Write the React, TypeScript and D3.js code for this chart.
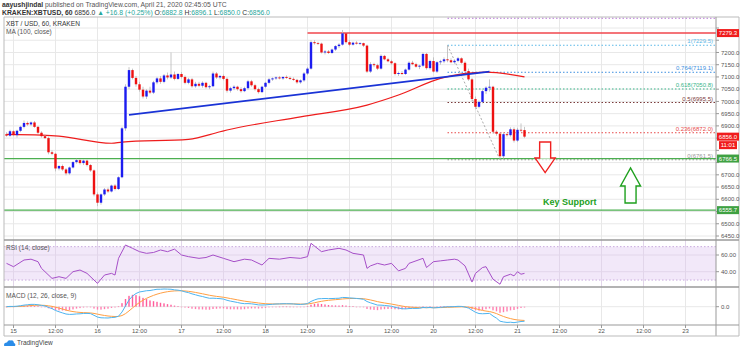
import React from 'react';
import * as d3 from 'd3';

const W = 741;
const H = 351;

// hourly candles, first one is 14 April 22:00 (hour -2 relative to 15 April 00:00)
const FIRST_HOUR = -2;
const ohlc: [number, number, number, number][] = [
  [6866, 6874, 6856, 6860], [6860, 6884, 6856, 6878], [6878, 6882, 6858, 6862], [6862, 6884, 6852, 6880],
  [6880, 6900, 6874, 6896], [6896, 6922, 6890, 6912], [6912, 6918, 6900, 6906], [6906, 6918, 6900, 6914],
  [6914, 6920, 6892, 6896], [6896, 6900, 6866, 6872], [6872, 6878, 6852, 6858], [6858, 6864, 6846, 6850],
  [6850, 6856, 6784, 6792], [6792, 6800, 6780, 6786], [6786, 6790, 6714, 6726], [6726, 6740, 6718, 6736],
  [6736, 6742, 6716, 6722], [6722, 6728, 6698, 6706], [6706, 6734, 6700, 6730], [6730, 6756, 6726, 6752],
  [6752, 6766, 6746, 6760], [6760, 6764, 6742, 6748], [6748, 6762, 6740, 6758], [6758, 6762, 6734, 6740],
  [6740, 6744, 6712, 6718], [6718, 6722, 6612, 6620], [6620, 6628, 6572, 6586], [6586, 6624, 6578, 6620],
  [6620, 6646, 6614, 6640], [6640, 6648, 6626, 6632], [6632, 6660, 6628, 6656], [6656, 6662, 6636, 6642],
  [6642, 6694, 6638, 6690], [6690, 6896, 6686, 6890], [6890, 7070, 6880, 7060], [7060, 7140, 7050, 7128],
  [7128, 7134, 7090, 7096], [7096, 7104, 7060, 7070], [7070, 7080, 7040, 7048], [7048, 7060, 7012, 7020],
  [7020, 7050, 7010, 7044], [7044, 7060, 7030, 7036], [7036, 7084, 7030, 7078], [7078, 7100, 7070, 7094],
  [7094, 7104, 7072, 7080], [7080, 7112, 7074, 7106], [7106, 7118, 7090, 7098], [7098, 7200, 7092, 7110],
  [7110, 7122, 7086, 7092], [7092, 7116, 7088, 7112], [7112, 7120, 7094, 7100], [7100, 7106, 7070, 7076],
  [7076, 7096, 7070, 7090], [7090, 7096, 7056, 7062], [7062, 7080, 7056, 7072], [7072, 7080, 7058, 7064],
  [7064, 7082, 7056, 7076], [7076, 7080, 7052, 7058], [7058, 7068, 7050, 7062], [7062, 7122, 7058, 7114],
  [7114, 7120, 7092, 7098], [7098, 7108, 7090, 7104], [7104, 7110, 7086, 7092], [7092, 7098, 7036, 7044],
  [7044, 7060, 7036, 7054], [7054, 7066, 7046, 7060], [7060, 7064, 7044, 7050], [7050, 7058, 7036, 7042],
  [7042, 7060, 7038, 7054], [7054, 7088, 7048, 7082], [7082, 7088, 7060, 7066], [7066, 7072, 7044, 7050],
  [7050, 7056, 7032, 7038], [7038, 7064, 7034, 7060], [7060, 7080, 7054, 7076], [7076, 7096, 7070, 7090],
  [7090, 7098, 7084, 7094], [7094, 7102, 7088, 7098], [7098, 7104, 7090, 7094], [7094, 7102, 7088, 7100],
  [7100, 7106, 7092, 7096], [7096, 7102, 7088, 7092], [7092, 7098, 7084, 7088], [7088, 7092, 7072, 7078],
  [7078, 7090, 7072, 7086], [7086, 7120, 7080, 7114], [7114, 7140, 7108, 7134], [7134, 7250, 7130, 7242],
  [7242, 7250, 7232, 7238], [7238, 7244, 7230, 7236], [7236, 7240, 7196, 7200], [7200, 7210, 7192, 7204],
  [7204, 7210, 7194, 7198], [7198, 7216, 7194, 7212], [7212, 7230, 7206, 7226], [7226, 7238, 7218, 7232],
  [7232, 7292, 7228, 7278], [7278, 7282, 7236, 7242], [7242, 7250, 7226, 7232], [7232, 7244, 7228, 7240],
  [7240, 7246, 7232, 7236], [7236, 7242, 7230, 7238], [7238, 7240, 7222, 7228], [7228, 7232, 7116, 7122],
  [7122, 7160, 7116, 7152], [7152, 7158, 7140, 7148], [7148, 7154, 7128, 7134], [7134, 7192, 7130, 7186],
  [7186, 7190, 7168, 7172], [7172, 7178, 7160, 7164], [7164, 7170, 7150, 7156], [7156, 7160, 7106, 7112],
  [7112, 7122, 7104, 7116], [7116, 7124, 7108, 7112], [7112, 7134, 7108, 7130], [7130, 7164, 7126, 7158],
  [7158, 7166, 7148, 7152], [7152, 7158, 7138, 7142], [7142, 7150, 7132, 7146], [7146, 7200, 7140, 7194],
  [7194, 7198, 7130, 7136], [7136, 7170, 7130, 7165], [7165, 7180, 7118, 7122], [7122, 7164, 7116, 7160],
  [7160, 7170, 7150, 7164], [7164, 7180, 7156, 7172], [7172, 7229.5, 7160, 7168], [7168, 7176, 7156, 7160],
  [7160, 7172, 7154, 7166], [7166, 7182, 7160, 7176], [7176, 7180, 7154, 7158], [7158, 7164, 7118, 7124],
  [7124, 7134, 7084, 7090], [7090, 7096, 7000, 7010], [7010, 7020, 6968, 6978], [6978, 7004, 6972, 6998],
  [6998, 7048, 6992, 7042], [7042, 7062, 7030, 7056], [7056, 7090, 7040, 7060], [7060, 7064, 6868, 6876],
  [6876, 6882, 6860, 6868], [6868, 6874, 6761.5, 6776], [6776, 6872, 6766, 6866], [6866, 6872, 6856, 6862],
  [6862, 6894, 6856, 6886], [6886, 6894, 6832, 6840], [6840, 6892, 6834, 6884], [6884, 6910, 6876, 6882],
  [6882.8, 6896.1, 6850, 6856],
];

const priceTicks = d3.range(6450, 7301, 50);
const timeLabels = ['15', '12:00', '16', '12:00', '17', '12:00', '18', '12:00', '19', '12:00', '20', '12:00', '21', '12:00', '22', '12:00', '23'];
const timeLabelHours = timeLabels.map((_, i) => i * 12);

// MA(100) read at a few hours
const maHours = [-2, 8, 13, 28, 31, 50, 59, 61, 82, 101, 110, 122, 135, 146];
const maValues = [6865, 6862, 6858, 6829, 6834, 6845, 6876, 6883, 6937, 6985, 7026, 7094, 7120, 7100];

// RSI(14)
const rsiHours = [-2, 0, 3, 5, 7, 8, 11, 13, 15, 17, 19, 21, 24, 26, 28, 29, 30, 32, 34, 36, 38, 40, 42, 44, 46, 48, 50, 53, 55, 57, 60, 63, 66, 68, 71, 73, 76, 79, 82, 84, 85, 88, 90, 93, 95, 97, 100, 101, 102, 104, 106, 108, 110, 112, 113, 115, 117, 118, 120, 122, 124, 126, 127, 129, 131, 132, 134, 135, 137, 139, 140, 142, 143, 144, 145, 146];
const rsiValues = [50, 46, 54, 55, 52, 44, 32, 34, 32, 40, 42, 38, 26, 36, 38, 36, 56, 72, 68, 64, 62, 63, 66, 64, 67, 60, 58, 56, 57, 60, 56, 52, 55, 54, 48, 56, 55, 57, 56, 58, 74, 64, 66, 68, 66, 62, 60, 44, 47, 50, 48, 50, 41, 44, 50, 53, 56, 45, 52, 53, 54, 55, 54, 47, 27.6, 38, 45, 46, 31, 25, 34, 37, 35, 40, 37, 38];

// rising trend line (hour, price)
const trendHours = [33, 136];
const trendPrices = [6945, 7122];

const resistancePrice = 7279.3;
const resistanceStartHour = 84;
const supportPrices = [6766.5, 6555.7];

const fibHigh = 7229.5;
const fibLow = 6761.5;
const fibStartHour = 124;
const fibLowHour = 139;
const fibRatios = [1.236, 1, 0.764, 0.618, 0.5, 0.236, 0];
const fibLabelPrices = [7339.9, 7229.5, 7119.1, 7050.8, 6995.5, 6872.0, 6761.5];
const fibColors = ['#b56fd6', '#5bb8e8', '#3d8fe0', '#38b58a', '#7a3b3b', '#e84a4a', '#999999'];
const fibShowLabel = [false, true, true, true, true, true, true];

const lastPrice = 6856.0;
const countdown = '11:01';

const rsiTicks = [60, 40];

const FONT = '"Liberation Sans", Arial, sans-serif';

function ema(vals: number[], n: number) {
  const a = 2 / (n + 1);
  const out: number[] = [];
  vals.forEach((v, i) => out.push(i === 0 ? v : a * v + (1 - a) * out[i - 1]));
  return out;
}

export default function App() {
  const L = 4, R = 716, AX = 739;
  const mainTop = 17, mainBot = 240, rsiBot = 287, macdBot = 325, axBot = 336;

  const x = d3.scaleLinear().domain([0, 12]).range([13.5, 55.5]);
  const y = d3.scaleLinear().domain([6450, 7300]).range([236, 28]);
  const yR = d3.scaleLinear().domain([40, 60]).range([271.7, 255]);

  const closes = ohlc.map(d => d[3]);
  const hours = ohlc.map((_, i) => FIRST_HOUR + i);
  const e12 = ema(closes, 12), e26 = ema(closes, 26);
  const macd = e12.map((v, i) => v - e26[i]);
  const signal = ema(macd, 9);
  const hist = macd.map((v, i) => v - signal[i]);
  const macdMax = d3.max(macd) as number;
  const yM = d3.scaleLinear().domain([0, macdMax]).range([306.7, 289]);

  const bw = 2.4;
  const maLine = d3.line<number>().x((_, i) => x(maHours[i])).y(v => y(v)).curve(d3.curveMonotoneX);
  const rsiLine = d3.line<number>().x((_, i) => x(rsiHours[i])).y(v => yR(v));
  const macdLine = d3.line<number>().x((_, i) => x(hours[i])).y(v => yM(v));

  const grid = '#e8e8e8';
  const axisText = '#555';

  const fibPrice = (r: number) => fibLow + r * (fibHigh - fibLow);

  const tags = [
    { p: resistancePrice, c: '#f01c1c' },
    { p: lastPrice, c: '#f01c1c' },
    { p: supportPrices[0], c: '#3fa142' },
    { p: supportPrices[1], c: '#3fa142' },
  ];
  const visibleTicks = priceTicks.filter(p => tags.every(t => Math.abs(y(t.p) - y(p)) > 8) && Math.abs(y(lastPrice) + 8.5 - y(p)) > 7);

  // arrows (in data coordinates)
  const dnX = x(151.9), dnTop = y(6834), dnTip = y(6709);
  const upX = x(176.3), upTip = y(6728), upBot = y(6585);

  const downArrow = `M${dnX - 5.5},${dnTop} L${dnX + 5.5},${dnTop} L${dnX + 5.5},${dnTop + 16} L${dnX + 10},${dnTop + 16} L${dnX},${dnTip} L${dnX - 10},${dnTop + 16} L${dnX - 5.5},${dnTop + 16} Z`;
  const upArrow = `M${upX - 5.5},${upBot} L${upX + 5.5},${upBot} L${upX + 5.5},${upTip + 18} L${upX + 10},${upTip + 18} L${upX},${upTip} L${upX - 10},${upTip + 18} L${upX - 5.5},${upTip + 18} Z`;

  return (
    <svg width={W} height={H} style={{ position: 'absolute', left: 0, top: 0, background: '#fff' }} fontFamily={FONT}>
      <defs>
        <clipPath id="mainClip"><rect x={L} y={mainTop} width={R - L} height={mainBot - mainTop} /></clipPath>
        <clipPath id="rsiClip"><rect x={L} y={mainBot} width={R - L} height={rsiBot - mainBot} /></clipPath>
        <clipPath id="macdClip"><rect x={L} y={rsiBot} width={R - L} height={macdBot - rsiBot} /></clipPath>
      </defs>
      <rect x={0} y={0} width={W} height={H} fill="#fff" />

      {/* header */}
      <text x={2} y={6.5} fontSize={6.8} fill="#555">
        <tspan fontWeight="bold" fill="#333">aayushjindal</tspan>
        <tspan> published on TradingView.com, April 21, 2020 02:45:05 UTC</tspan>
      </text>
      <text x={2} y={14.5} fontSize={6.8} fill="#333">
        <tspan fontWeight="bold">KRAKEN:XBTUSD, 60</tspan>
        <tspan> 6856.0 </tspan>
        <tspan fill="#26a69a">▲ +16.8 (+0.25%)</tspan>
        <tspan> O:</tspan><tspan fill="#26a69a">6882.8</tspan>
        <tspan> H:</tspan><tspan fill="#26a69a">6896.1</tspan>
        <tspan> L:</tspan><tspan fill="#26a69a">6850.0</tspan>
        <tspan> C:</tspan><tspan fill="#26a69a">6856.0</tspan>
      </text>

      {/* grids */}
      <g clipPath="url(#mainClip)">
        {priceTicks.map(p => <line key={p} x1={L} x2={R} y1={y(p)} y2={y(p)} stroke={grid} />)}
      </g>
      {timeLabelHours.map(h => (
        <line key={h} x1={x(h)} x2={x(h)} y1={mainTop} y2={macdBot} stroke={grid} />
      ))}

      {/* main panel */}
      <g clipPath="url(#mainClip)">
        {fibRatios.map((r, i) => (
          <line key={r} x1={x(fibStartHour)} x2={R} y1={y(fibPrice(r))} y2={y(fibPrice(r))} stroke={fibColors[i]} strokeDasharray="1.5,2" strokeWidth={1} />
        ))}
        <line x1={x(fibStartHour)} y1={y(fibHigh)} x2={x(fibLowHour)} y2={y(fibLow)} stroke="#aaa" strokeDasharray="2,2" />
        {fibRatios.map((r, i) => fibShowLabel[i] ? (
          <text key={'l' + r} x={713} y={y(fibPrice(r)) - 2} fontSize={6} textAnchor="end" fill={fibColors[i]}>
            {`${r}(${fibLabelPrices[i].toFixed(1)})`}
          </text>
        ) : null)}

        {supportPrices.map(p => <line key={p} x1={L} x2={R} y1={y(p)} y2={y(p)} stroke="#4caf50" strokeWidth={1.3} />)}
        <line x1={x(resistanceStartHour)} x2={R} y1={y(resistancePrice)} y2={y(resistancePrice)} stroke="#f0464d" strokeWidth={1.6} />

        <path d={maLine(maValues) as string} fill="none" stroke="#ee1c1c" strokeWidth={1.2} />

        {ohlc.map((d, i) => {
          const [o, h, l, c] = d;
          const cx = x(hours[i]);
          const up = c >= o;
          const top = y(Math.max(o, c)), bot = y(Math.min(o, c));
          return (
            <g key={i}>
              <line x1={cx} x2={cx} y1={y(h)} y2={y(l)} stroke="#b8b8b8" strokeWidth={0.8} />
              <rect x={cx - bw / 2} y={top} width={bw} height={Math.max(bot - top, 0.8)} fill={up ? '#1c1cf0' : '#ee1111'} />
            </g>
          );
        })}

        <line x1={x(trendHours[0])} y1={y(trendPrices[0])} x2={x(trendHours[1])} y2={y(trendPrices[1])} stroke="#1a33d6" strokeWidth={1.8} />

        <path d={downArrow} fill="#fff" fillOpacity={0.6} stroke="#f02020" strokeWidth={1.4} />
        <path d={upArrow} fill="#fff" fillOpacity={0.6} stroke="#1ea01e" strokeWidth={1.4} />
        <text x={x(151.3)} y={y(6589) + 3.2} fontSize={9} fontWeight="bold" fill="#22a022">Key Support</text>
      </g>
      <text x={6} y={26} fontSize={6.6} fill="#333">XBT / USD, 60, KRAKEN</text>
      <text x={6} y={33.5} fontSize={6.6} fill="#555">MA (100, close)</text>

      {/* RSI panel */}
      <g clipPath="url(#rsiClip)">
        <rect x={L} y={yR(70)} width={R - L} height={yR(30) - yR(70)} fill="#ede0f7" fillOpacity={0.75} />
        {rsiTicks.map(v => <line key={v} x1={L} x2={R} y1={yR(v)} y2={yR(v)} stroke="#e2d6ea" />)}
        <line x1={L} x2={R} y1={yR(70)} y2={yR(70)} stroke="#c7a9dc" strokeDasharray="1.5,2" />
        <line x1={L} x2={R} y1={yR(30)} y2={yR(30)} stroke="#c7a9dc" strokeDasharray="1.5,2" />
        {timeLabelHours.map(h => <line key={h} x1={x(h)} x2={x(h)} y1={mainBot} y2={rsiBot} stroke="#e2d6ea" />)}
        <path d={rsiLine(rsiValues) as string} fill="none" stroke="#a64fc8" strokeWidth={1} />
      </g>
      <text x={6} y={250} fontSize={6.6} fill="#555">RSI (14, close)</text>

      {/* MACD panel */}
      <g clipPath="url(#macdClip)">
        <line x1={L} x2={R} y1={yM(0)} y2={yM(0)} stroke={grid} />
        {hist.map((v, i) => (
          <rect key={i} x={x(hours[i]) - 0.7} width={1.4} y={Math.min(yM(v), yM(0))} height={Math.max(Math.abs(yM(v) - yM(0)), 0.6)}
            fill={v >= 0 ? '#ff5c9a' : '#ff7fb0'} />
        ))}
        <path d={macdLine(signal) as string} fill="none" stroke="#ff9f43" strokeWidth={1} />
        <path d={macdLine(macd) as string} fill="none" stroke="#4db4f0" strokeWidth={1} />
      </g>
      <text x={6} y={297.5} fontSize={6.6} fill="#555">MACD (12, 26, close, 9)</text>

      {/* borders */}
      <line x1={L} x2={L} y1={mainTop} y2={axBot} stroke="#bbb" />
      <line x1={L} x2={AX} y1={mainTop} y2={mainTop} stroke="#bbb" />
      <line x1={R} x2={R} y1={mainTop} y2={axBot} stroke="#999" />
      <line x1={AX} x2={AX} y1={mainTop} y2={axBot} stroke="#bbb" />
      <line x1={L} x2={AX} y1={mainBot} y2={mainBot} stroke="#9a9a9a" strokeWidth={1.5} />
      <line x1={L} x2={AX} y1={rsiBot} y2={rsiBot} stroke="#9a9a9a" strokeWidth={1.5} />
      <line x1={L} x2={AX} y1={macdBot} y2={macdBot} stroke="#999" />
      <line x1={L} x2={AX} y1={axBot} y2={axBot} stroke="#bbb" />

      {/* price axis */}
      {priceTicks.map(p => (
        <line key={'t' + p} x1={R} x2={R + 3} y1={y(p)} y2={y(p)} stroke="#999" />
      ))}
      {visibleTicks.map(p => (
        <text key={p} x={721} y={y(p) + 2.2} fontSize={6} fill={axisText}>{p.toFixed(1)}</text>
      ))}
      {rsiTicks.map(v => (
        <g key={v}>
          <line x1={R} x2={R + 3} y1={yR(v)} y2={yR(v)} stroke="#999" />
          <text x={721} y={yR(v) + 2.2} fontSize={6} fill={axisText}>{v.toFixed(2)}</text>
        </g>
      ))}
      <line x1={R} x2={R + 3} y1={yM(0)} y2={yM(0)} stroke="#999" />
      <text x={721} y={yM(0) + 2.2} fontSize={6} fill={axisText}>0.0</text>

      {/* price tags */}
      {tags.map(({ p, c }) => (
        <g key={p}>
          <rect x={R + 1} y={y(p) - 4} width={22} height={8} fill={c} />
          <text x={R + 12} y={y(p) + 2.2} fontSize={6} fill="#fff" textAnchor="middle">{p.toFixed(1)}</text>
        </g>
      ))}
      <rect x={R + 3} y={y(lastPrice) + 4.5} width={18} height={8} fill="#f01c1c" />
      <text x={R + 12} y={y(lastPrice) + 10.7} fontSize={6} fill="#fff" textAnchor="middle">{countdown}</text>

      {/* time axis */}
      {timeLabelHours.map((h, i) => (
        <g key={h}>
          <line x1={x(h)} x2={x(h)} y1={macdBot} y2={macdBot + 3} stroke="#999" />
          <text x={x(h)} y={332.5} fontSize={6} fill={axisText} textAnchor="middle">{timeLabels[i]}</text>
        </g>
      ))}

      {/* TradingView logo */}
      <g transform="translate(3,339)">
        <path d="M1,6 Q1,3 4,3.5 Q5,0.5 8,1.5 Q10.5,0.5 11,4 Q13,4.5 12,7 L2,7 Q0.5,7 1,6 Z" fill="#2a8ce8" />
        <text x={14} y={6.2} fontSize={6.5} fill="#444">TradingView</text>
      </g>
    </svg>
  );
}
